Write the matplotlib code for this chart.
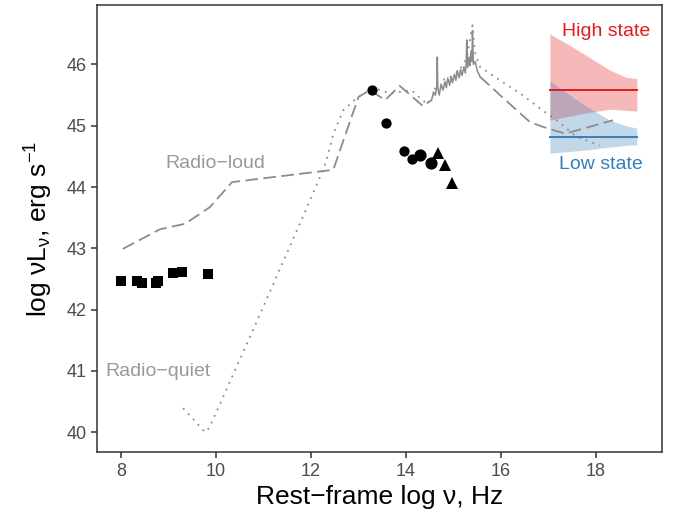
import matplotlib
matplotlib.use("Agg")
import matplotlib.pyplot as plt

plt.rcParams["font.family"] = ["Liberation Sans", "DejaVu Sans"]
plt.rcParams["mathtext.fontset"] = "custom"
plt.rcParams["mathtext.rm"] = "Liberation Sans"
plt.rcParams["mathtext.default"] = "regular"

# radio-loud template (dashed), log nu / log nuLnu
loud_x = [8.04, 8.82, 9.35, 9.87, 10.34, 12.25, 12.47, 13.0, 13.24, 13.56, 13.87, 14.36, 14.54]
loud_y = [42.99, 43.31, 43.40, 43.67, 44.08, 44.26, 44.28, 45.47, 45.58, 45.42, 45.65, 45.32, 45.42]
loud_x2 = [15.56, 15.98, 16.61, 16.89, 17.35, 18.36]
loud_y2 = [45.80, 45.50, 45.06, 44.98, 44.87, 45.09]

# radio-quiet template (dotted)
quiet_x = [9.31, 9.77, 9.86, 10.72, 11.71, 12.25, 12.33, 12.47, 12.68, 12.96, 13.17, 13.31,
           13.66, 14.12, 14.30, 14.45, 14.56, 14.66, 14.9, 15.1, 15.28, 15.4, 15.45, 15.56,
           15.98, 16.4, 16.88, 17.17, 17.59, 18.08]
quiet_y = [40.39, 40.0, 40.07, 41.56, 43.30, 44.27, 44.44, 44.87, 45.25, 45.45, 45.55, 45.62,
           45.53, 45.58, 45.45, 45.35, 45.48, 45.72, 45.78, 45.88, 46.1, 46.64, 46.2, 45.96,
           45.74, 45.53, 45.25, 45.09, 44.82, 44.68]

# optical/UV template spectrum (solid part)
spec_x = [14.54, 14.58, 14.62, 14.65, 14.66, 14.67, 14.70, 14.74, 14.78, 14.82, 14.85, 14.88,
          14.92, 14.95, 14.98, 15.02, 15.05, 15.08, 15.12, 15.15, 15.18, 15.22, 15.25,
          15.27, 15.28, 15.30, 15.33, 15.35, 15.37, 15.39, 15.40, 15.42, 15.46, 15.50, 15.56]
spec_y = [45.42, 45.55, 45.50, 45.64, 46.12, 45.62, 45.50, 45.68, 45.58, 45.72, 45.62, 45.78,
          45.66, 45.80, 45.70, 45.84, 45.74, 45.90, 45.78, 45.92, 45.82, 45.96, 45.86,
          46.05, 46.40, 45.95, 46.12, 45.98, 46.22, 46.05, 46.55, 46.00, 46.05, 45.90, 45.80]

# photometry
radio_x = [8.0, 8.33, 8.44, 8.73, 8.77, 9.10, 9.29, 9.84]
radio_y = [42.46, 42.47, 42.43, 42.43, 42.47, 42.59, 42.61, 42.58]
opt_x = [13.28, 13.57, 13.96, 14.12, 14.29, 14.53]
opt_y = [45.58, 45.05, 44.58, 44.45, 44.52, 44.39]
opt_big = [False, False, False, False, True, True]
uv_x = [14.68, 14.82, 14.96]
uv_y = [44.55, 44.36, 44.06]

# X-ray power-law states
xr_x = [17.03, 17.73, 18.29, 18.64, 18.86]
high_mid = 45.59
high_lo = [45.09, 45.20, 45.27, 45.25, 45.24]
high_hi = [46.50, 46.18, 45.91, 45.79, 45.77]
low_mid = 44.81
low_lo = [44.55, 44.60, 44.65, 44.68, 44.69]
low_hi = [45.73, 45.35, 45.09, 45.00, 44.96]

red = "#E41A1C"
blue = "#377EB8"
grey = "#8C8C8C"

fig = plt.figure(figsize=(6.75, 5.18), dpi=100)
ax = fig.add_axes([0.1433, 0.1268, 0.9807 - 0.1433, 0.9903 - 0.1268])

ax.plot(loud_x, loud_y, color=grey, lw=1.3, dashes=(7, 3))
ax.plot(loud_x2, loud_y2, color=grey, lw=1.3, dashes=(7, 3))
ax.plot(spec_x, spec_y, color=grey, lw=1.1)
ax.plot(quiet_x, quiet_y, color=grey, lw=1.3, linestyle=(0, (1, 3)))

ax.fill_between(xr_x, high_lo, high_hi, color=red, alpha=0.3, lw=0)
ax.fill_between(xr_x, low_lo, low_hi, color=blue, alpha=0.3, lw=0)
ax.plot([xr_x[0], xr_x[-1]], [high_mid, high_mid], color=red, lw=1.4)
ax.plot([xr_x[0], xr_x[-1]], [low_mid, low_mid], color=blue, lw=1.4)

ax.plot(radio_x, radio_y, "s", color="black", ms=7.5, mew=0)
for x, y, big in zip(opt_x, opt_y, opt_big):
    ax.plot(x, y, "o", color="black", ms=8.8 if big else 7.4, mew=0)
ax.plot(uv_x, uv_y, "^", color="black", ms=9, mew=0)

ax.text(9.98, 44.39, "Radio\u2212loud", color="#999999", fontsize=14, ha="center", va="center")
ax.text(8.79, 40.99, "Radio\u2212quiet", color="#999999", fontsize=14, ha="center", va="center")
ax.text(18.21, 46.53, "High state", color=red, fontsize=14, ha="center", va="center")
ax.text(18.11, 44.37, "Low state", color=blue, fontsize=14, ha="center", va="center")

ax.set_xlim(7.49, 19.39)
ax.set_ylim(39.67, 46.97)
ax.set_xticks([8, 10, 12, 14, 16, 18])
ax.set_yticks([40, 41, 42, 43, 44, 45, 46])
ax.tick_params(colors="#333333", labelcolor="#4D4D4D", labelsize=13, length=4, width=1.1)
for s in ax.spines.values():
    s.set_color("#333333")
    s.set_linewidth(1.1)

ax.set_xlabel("Rest\u2212frame log \u03bd, Hz", fontsize=19, labelpad=4)
ax.set_ylabel("log \u03bdL$_{\u03bd}$, erg s$^{-1}$", fontsize=19, labelpad=8)

fig.savefig("out.png", dpi=100)
